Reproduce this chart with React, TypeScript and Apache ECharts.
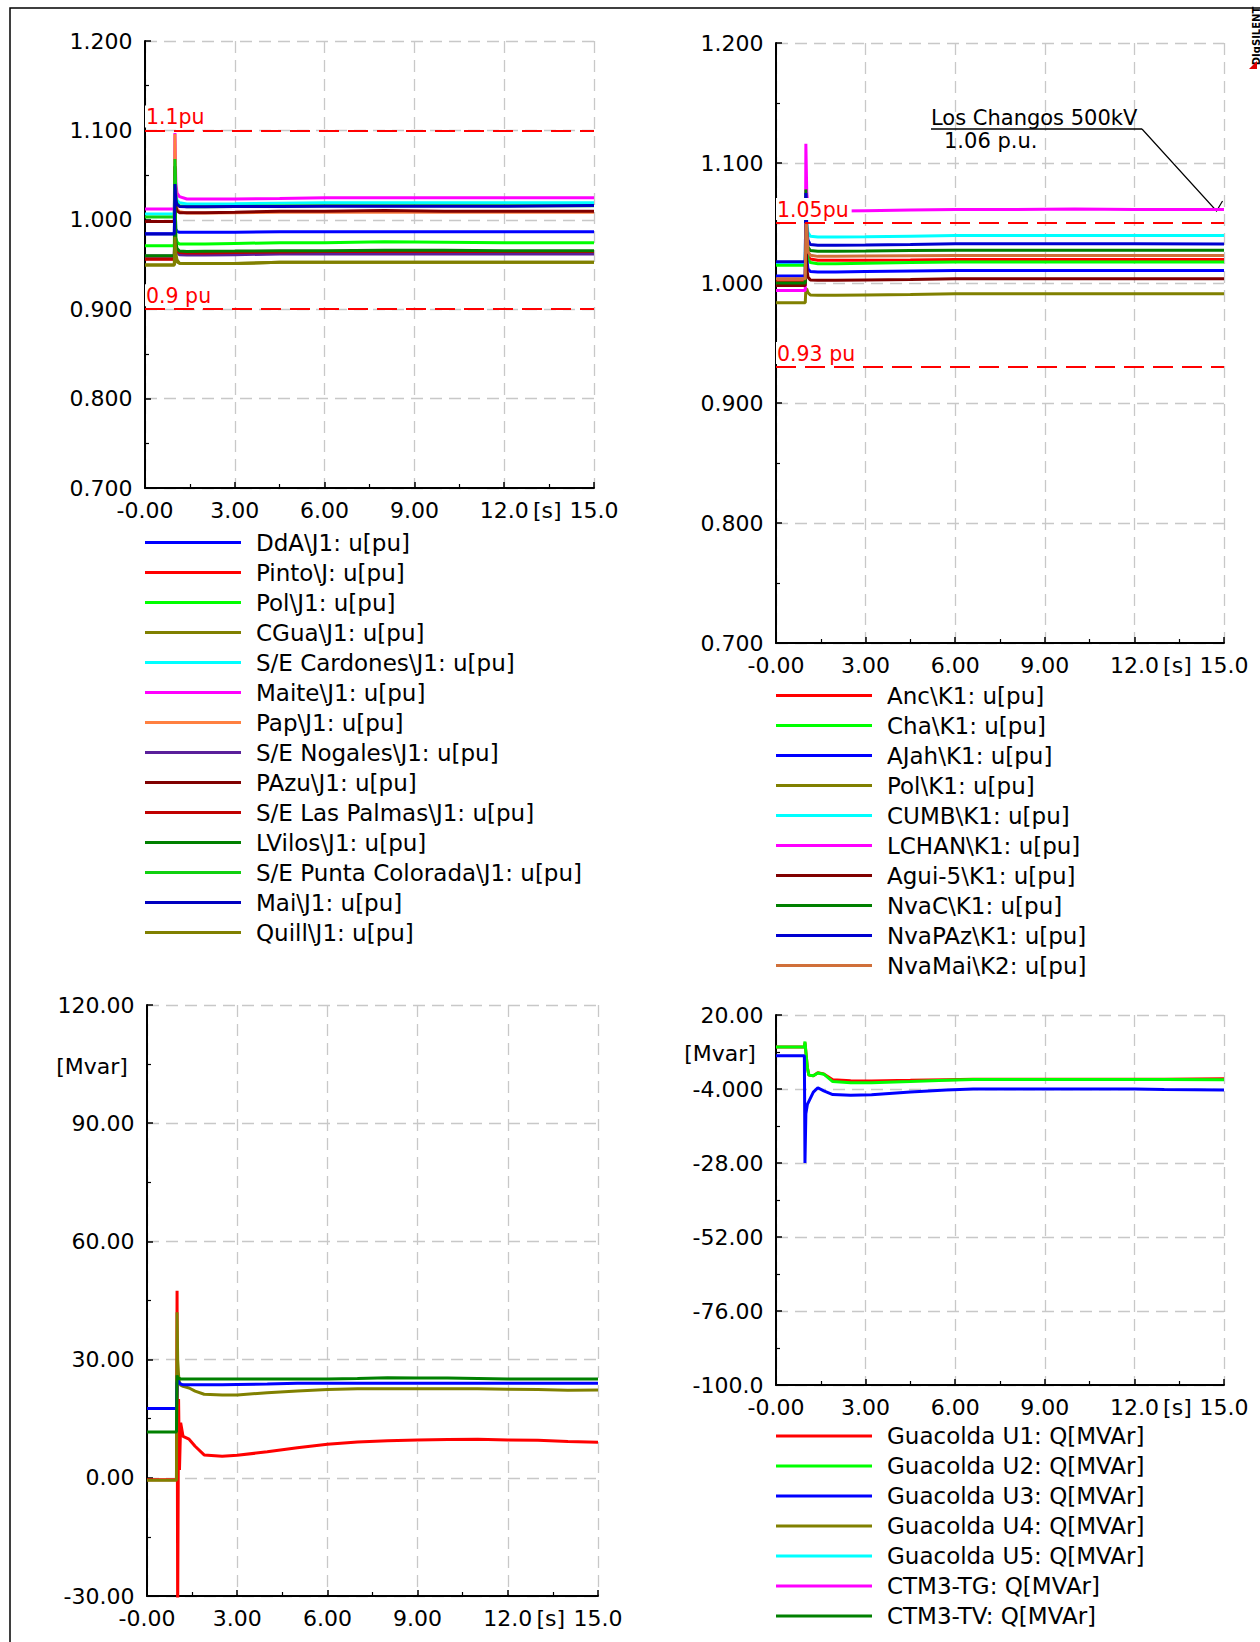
import React, { useEffect, useRef } from 'react';
import * as echarts from 'echarts';

const FONT = '"DejaVu Sans", Verdana, sans-serif';

// ---------- shared x axis ----------
const X_TICKS = [0, 3, 6, 9, 12, 15];
const X_LABELS = ['-0.00', '3.00', '6.00', '9.00', '12.0', '15.0'];
const X_UNIT = '[s]';

// ---------- top-left: voltages (J1) ----------
const TL_Y_LABELS = ['0.700', '0.800', '0.900', '1.000', '1.100', '1.200'];
const TL_LIMITS = [1.1, 0.9];
const TL_LIMIT_LABELS = ['1.1pu', '0.9 pu'];
const TL_TIME = [0, 0.98, 1.0, 1.03, 1.07, 1.15, 1.4, 2.0, 3.0, 4.5, 6.0, 8.0, 10.0, 12.0, 15.0];
const TL_NAMES = [
  'DdA\\J1: u[pu]', 'Pinto\\J: u[pu]', 'Pol\\J1: u[pu]', 'CGua\\J1: u[pu]',
  'S/E Cardones\\J1: u[pu]', 'Maite\\J1: u[pu]', 'Pap\\J1: u[pu]', 'S/E Nogales\\J1: u[pu]',
  'PAzu\\J1: u[pu]', 'S/E Las Palmas\\J1: u[pu]', 'LVilos\\J1: u[pu]',
  'S/E Punta Colorada\\J1: u[pu]', 'Mai\\J1: u[pu]', 'Quill\\J1: u[pu]',
];
const TL_COLORS = [
  '#0000ff', '#ff0000', '#00ff00', '#808000', '#00ffff', '#ff00ff', '#ff8040',
  '#5a1f9a', '#800000', '#c00000', '#008000', '#10d010', '#0000c0', '#808000',
];
const TL_DDA = [0.9845, 0.9845, 1.02, 0.99, 0.987, 0.986, 0.986, 0.986, 0.986, 0.9867, 0.9867, 0.9867, 0.9867, 0.9867, 0.9867];
const TL_PINTO = [0.9565, 0.9565, 1.0, 0.97, 0.965, 0.963, 0.9625, 0.9625, 0.963, 0.9635, 0.964, 0.964, 0.964, 0.964, 0.964];
const TL_POL = [0.971, 0.971, 1.04, 0.98, 0.975, 0.973, 0.9728, 0.9728, 0.9735, 0.9744, 0.9744, 0.9755, 0.975, 0.9744, 0.9744];
const TL_CGUA = [0.9494, 0.9494, 0.975, 0.958, 0.953, 0.9515, 0.951, 0.951, 0.951, 0.9524, 0.9524, 0.9524, 0.9524, 0.9524, 0.9524];
const TL_CARDONES = [1.0065, 1.0065, 1.07, 1.03, 1.022, 1.019, 1.0178, 1.0178, 1.018, 1.0185, 1.019, 1.019, 1.019, 1.019, 1.019];
const TL_MAITE = [1.012, 1.012, 1.097, 1.04, 1.03, 1.026, 1.0233, 1.0233, 1.0233, 1.0238, 1.0247, 1.0247, 1.0247, 1.0247, 1.0247];
const TL_PAP = [0.998, 0.998, 1.096, 1.025, 1.012, 1.009, 1.0075, 1.0075, 1.008, 1.0085, 1.0085, 1.0085, 1.0085, 1.0085, 1.0085];
const TL_NOGALES = [0.9594, 0.9594, 1.0, 0.97, 0.964, 0.961, 0.9605, 0.9605, 0.961, 0.9617, 0.9617, 0.9617, 0.9617, 0.9617, 0.9617];
const TL_PAZU = [0.998, 0.998, 1.06, 1.015, 1.01, 1.008, 1.0078, 1.008, 1.0085, 1.0095, 1.0097, 1.0103, 1.0097, 1.0097, 1.0097];
const TL_LASPALMAS = [0.956, 0.956, 0.99, 0.968, 0.965, 0.9635, 0.963, 0.963, 0.9635, 0.964, 0.9645, 0.9645, 0.9645, 0.9645, 0.9645];
const TL_LVILOS = [0.9598, 0.9598, 1.02, 0.975, 0.968, 0.965, 0.9645, 0.9648, 0.965, 0.9655, 0.9655, 0.966, 0.9658, 0.9655, 0.9655];
const TL_PCOLORADA = [1.003, 1.003, 1.068, 1.025, 1.018, 1.0155, 1.0145, 1.0145, 1.015, 1.0155, 1.0158, 1.0158, 1.0158, 1.0158, 1.0158];
const TL_MAI = [0.984, 0.984, 1.04, 1.022, 1.017, 1.015, 1.0145, 1.0145, 1.0148, 1.015, 1.0152, 1.0152, 1.0152, 1.0152, 1.016];
const TL_QUILL = [0.9494, 0.9494, 0.981, 0.962, 0.955, 0.9515, 0.951, 0.951, 0.951, 0.9524, 0.9524, 0.9524, 0.9524, 0.9524, 0.9524];
const TL_VALUES = [TL_DDA, TL_PINTO, TL_POL, TL_CGUA, TL_CARDONES, TL_MAITE, TL_PAP, TL_NOGALES, TL_PAZU, TL_LASPALMAS, TL_LVILOS, TL_PCOLORADA, TL_MAI, TL_QUILL];

// ---------- top-right: voltages (K1) ----------
const TR_Y_LABELS = ['0.700', '0.800', '0.900', '1.000', '1.100', '1.200'];
const TR_LIMITS = [1.05, 0.93];
const TR_LIMIT_LABELS = ['1.05pu', '0.93 pu'];
const TR_TIME = [0, 0.98, 1.0, 1.03, 1.07, 1.15, 1.4, 2.0, 3.0, 4.5, 6.0, 8.0, 10.0, 12.0, 15.0];
const TR_NAMES = [
  'Anc\\K1: u[pu]', 'Cha\\K1: u[pu]', 'AJah\\K1: u[pu]', 'Pol\\K1: u[pu]', 'CUMB\\K1: u[pu]',
  'LCHAN\\K1: u[pu]', 'Agui-5\\K1: u[pu]', 'NvaC\\K1: u[pu]', 'NvaPAz\\K1: u[pu]', 'NvaMai\\K2: u[pu]',
];
const TR_COLORS = ['#ff0000', '#00ff00', '#0000ff', '#808000', '#00ffff', '#ff00ff', '#800000', '#008000', '#0000d0', '#d0703a'];
const TR_ANC = [1.001, 1.001, 1.06, 1.03, 1.022, 1.02, 1.0189, 1.0189, 1.019, 1.0192, 1.0195, 1.0195, 1.0195, 1.0195, 1.0195];
const TR_CHA = [1.0147, 1.0147, 1.07, 1.03, 1.02, 1.017, 1.0161, 1.0161, 1.0165, 1.017, 1.0175, 1.0175, 1.0175, 1.0175, 1.0175];
const TR_AJAH = [1.0058, 1.0058, 1.06, 1.02, 1.012, 1.0095, 1.0091, 1.0091, 1.0095, 1.01, 1.0105, 1.0105, 1.0105, 1.0105, 1.0105];
const TR_POL = [0.9836, 0.9836, 0.995, 0.995, 0.992, 0.99, 0.9897, 0.9897, 0.99, 0.9905, 0.9911, 0.9911, 0.9911, 0.9911, 0.9911];
const TR_CUMB = [1.017, 1.017, 1.075, 1.05, 1.042, 1.039, 1.0383, 1.0383, 1.0385, 1.039, 1.0395, 1.0395, 1.0395, 1.0395, 1.0395];
const TR_LCHAN = [0.9938, 0.9938, 1.116, 1.075, 1.065, 1.061, 1.06, 1.06, 1.0603, 1.0608, 1.0612, 1.0612, 1.0617, 1.0612, 1.0612];
const TR_AGUI5 = [0.998, 0.998, 1.04, 1.012, 1.005, 1.0025, 1.0022, 1.0022, 1.0025, 1.003, 1.0036, 1.0036, 1.0036, 1.0036, 1.0036];
const TR_NVAC = [1.0, 1.0, 1.078, 1.04, 1.03, 1.027, 1.0264, 1.0264, 1.0266, 1.027, 1.0272, 1.0272, 1.0272, 1.0272, 1.0272];
const TR_NVAPAZ = [1.0178, 1.0178, 1.075, 1.045, 1.036, 1.032, 1.0314, 1.0314, 1.0316, 1.032, 1.0328, 1.0328, 1.0328, 1.0328, 1.0325];
const TR_NVAMAI = [1.0036, 1.0036, 1.05, 1.048, 1.026, 1.0232, 1.0222, 1.0222, 1.0225, 1.0228, 1.023, 1.023, 1.023, 1.023, 1.023];
const TR_VALUES = [TR_ANC, TR_CHA, TR_AJAH, TR_POL, TR_CUMB, TR_LCHAN, TR_AGUI5, TR_NVAC, TR_NVAPAZ, TR_NVAMAI];
const NOTE_TITLE = 'Los Changos 500kV';
const NOTE_VALUE_TEXT = '1.06 p.u.';
const NOTE_POINT = [14.75, 1.06];

// ---------- bottom-left: reactive power ----------
const BL_Y_LABELS = ['-30.00', '0.00', '30.00', '60.00', '90.00', '120.00'];
const BL_UNIT = '[Mvar]';
const BL_TIME = [0, 0.98, 1.0, 1.02, 1.05, 1.08, 1.12, 1.2, 1.4, 1.6, 1.9, 2.5, 3.0, 4.0, 5.0, 6.0, 7.0, 8.0, 9.0, 10.0, 11.0, 12.0, 13.0, 14.0, 15.0];
const BL_NAMES = ['Q red', 'Q olive', 'Q blue', 'Q green'];
const BL_COLORS = ['#ff0000', '#808000', '#0000ff', '#008000'];
const BL_RED = [-0.5, -0.5, 47.5, -35, 20, 2, 14, 10.5, 9.8, 8.0, 5.8, 5.5, 5.7, 6.6, 7.6, 8.5, 9.1, 9.4, 9.6, 9.7, 9.8, 9.6, 9.5, 9.2, 9.0];
const BL_OLIVE = [-0.6, -0.6, 42, 30, 26, 24, 23.5, 23.2, 22.8, 22.0, 21.2, 21.0, 21.0, 21.6, 22.0, 22.4, 22.6, 22.6, 22.6, 22.6, 22.6, 22.5, 22.4, 22.2, 22.3];
const BL_BLUE = [17.6, 17.6, 24, 25, 24.5, 24, 23.8, 23.6, 23.6, 23.6, 23.6, 23.6, 23.7, 23.8, 24.0, 24.0, 24.0, 24.0, 24.0, 24.0, 24.0, 24.0, 24.0, 24.0, 24.0];
const BL_GREEN = [11.6, 11.6, 26, 25.5, 25.3, 25.2, 25.1, 25.1, 25.1, 25.1, 25.1, 25.1, 25.1, 25.1, 25.1, 25.1, 25.2, 25.4, 25.3, 25.3, 25.2, 25.1, 25.1, 25.1, 25.1];
const BL_VALUES = [BL_RED, BL_OLIVE, BL_BLUE, BL_GREEN];

// ---------- bottom-right: Guacolda reactive power ----------
const BR_Y_LABELS = ['-100.0', '-76.00', '-52.00', '-28.00', '-4.000', '20.00'];
const BR_Y_MIN = -100;
const BR_Y_MAX = 20;
const BR_Y_STEP = 24;
const BR_UNIT = '[Mvar]';
const BR_TIME = [0, 0.95, 0.97, 1.0, 1.05, 1.1, 1.25, 1.4, 1.6, 1.9, 2.5, 3.2, 4.5, 5.7, 6.6, 9.0, 12.0, 13.0, 15.0];
const BR_NAMES = [
  'Guacolda U1: Q[MVAr]', 'Guacolda U2: Q[MVAr]', 'Guacolda U3: Q[MVAr]', 'Guacolda U4: Q[MVAr]',
  'Guacolda U5: Q[MVAr]', 'CTM3-TG: Q[MVAr]', 'CTM3-TV: Q[MVAr]',
];
const BR_COLORS = ['#ff0000', '#00ff00', '#0000ff', '#808000', '#00ffff', '#ff00ff', '#008000'];
const BR_U1 = [9.6, 9.6, 11.0, 8, 3, 0.5, 0.3, 1.3, 0.9, -1.0, -1.3, -1.4, -1.2, -1.0, -0.85, -0.8, -0.8, -0.8, -0.7];
const BR_U2 = [9.6, 9.6, 11.4, 8, 3, 0.5, 0.3, 1.2, 0.8, -1.6, -2.0, -2.0, -1.6, -1.2, -0.9, -0.9, -0.9, -0.9, -1.0];
const BR_U3 = [6.75, 6.75, -28, -12, -9, -8, -5, -3.6, -4.6, -5.8, -6.0, -5.9, -5.0, -4.3, -4.0, -4.0, -4.0, -4.2, -4.3];
const BR_VALUES: number[][] = [BR_U1, BR_U2, BR_U3, [], [], [], []];

// ---------- layout ----------
const GRIDS = [
  { left: 145, top: 41, width: 449, height: 447 },
  { left: 776, top: 43, width: 448, height: 600 },
  { left: 147, top: 1005, width: 451, height: 591 },
  { left: 776, top: 1015, width: 448, height: 370 },
];
const TICK_SIZE = 22;
const LEGEND_SIZE = 23;
const X_LABEL_MARGIN = 11;

function xAxis(gridIndex: number) {
  return {
    type: 'value', gridIndex, min: 0, max: 15, interval: 3, position: 'bottom',
    axisLine: { show: true, onZero: false, lineStyle: { color: '#000', width: 2 } },
    axisTick: { show: true, inside: true, length: 6, lineStyle: { color: '#000', width: 1.5 } },
    minorTick: { show: true, splitNumber: 2, length: 4, lineStyle: { color: '#000', width: 1.2 } },
    splitLine: { show: true, lineStyle: { color: '#c8c8c8', type: [12, 7], width: 1.3 } },
    axisLabel: {
      show: true, showMinLabel: true, showMaxLabel: true, margin: X_LABEL_MARGIN,
      color: '#000', fontSize: TICK_SIZE, fontFamily: FONT,
      formatter: (v: number) => {
        const i = X_TICKS.findIndex((t) => Math.abs(t - v) < 1e-6);
        return i >= 0 ? X_LABELS[i] : '';
      },
    },
  };
}

function yAxis(gridIndex: number, min: number, max: number, interval: number, labels: string[]) {
  return {
    type: 'value', gridIndex, min, max, interval, position: 'left',
    axisLine: { show: true, onZero: false, lineStyle: { color: '#000', width: 2 } },
    axisTick: { show: true, inside: true, length: 6, lineStyle: { color: '#000', width: 1.5 } },
    minorTick: { show: true, splitNumber: 2, length: 4, lineStyle: { color: '#000', width: 1.2 } },
    splitLine: { show: true, lineStyle: { color: '#c8c8c8', type: [12, 7], width: 1.3 } },
    axisLabel: {
      show: true, showMinLabel: true, showMaxLabel: true, margin: 12.5,
      color: '#000', fontSize: TICK_SIZE, fontFamily: FONT,
      formatter: (v: number) => labels[Math.round((v - min) / interval)] ?? '',
    },
  };
}

function lineSeries(name: string, color: string, times: number[], values: number[], grid: number, offset = 0, extra: any = {}) {
  return {
    type: 'line', name, xAxisIndex: grid, yAxisIndex: grid,
    data: values.map((v, i) => [times[i], v + offset]),
    showSymbol: false, symbol: 'none', silent: true, z: 2,
    lineStyle: { color, width: 3 }, itemStyle: { color },
    ...extra,
  };
}

function limitLines(values: number[], labels: string[]) {
  return {
    silent: true, symbol: 'none',
    lineStyle: { color: '#ff0000', type: [20, 9], width: 2 },
    label: {
      position: 'insideStartTop', color: '#ff0000', fontSize: 20.5, fontFamily: FONT,
      backgroundColor: '#ffffff', padding: [1, 3, 0, 1], distance: [0, 3],
    },
    data: values.map((v, i) => ({ yAxis: v, label: { formatter: labels[i] } })),
  };
}

function legend(names: string[], left: number, top: number) {
  return {
    show: true, orient: 'vertical', left, top, padding: 0,
    itemWidth: 96, itemHeight: 3, itemGap: 30 - LEGEND_SIZE,
    icon: 'rect', selectedMode: false, data: names,
    textStyle: { color: '#000', fontSize: LEGEND_SIZE, fontFamily: FONT, padding: [0, 0, 0, 10] },
  };
}

function buildOption() {
  const series: any[] = [];
  TL_NAMES.forEach((n, i) => {
    series.push(lineSeries(n, TL_COLORS[i], TL_TIME, TL_VALUES[i], 0, 0,
      i === 0 ? { markLine: limitLines(TL_LIMITS, TL_LIMIT_LABELS) } : {}));
  });
  TR_NAMES.forEach((n, i) => {
    series.push(lineSeries(n, TR_COLORS[i], TR_TIME, TR_VALUES[i], 1, 0,
      i === 0 ? { markLine: limitLines(TR_LIMITS, TR_LIMIT_LABELS) } : {}));
  });
  BL_NAMES.forEach((n, i) => series.push(lineSeries(n, BL_COLORS[i], BL_TIME, BL_VALUES[i], 2)));
  BR_NAMES.forEach((n, i) => series.push(lineSeries(n, BR_COLORS[i], BR_TIME, BR_VALUES[i], 3, -BR_Y_MIN)));

  return {
    animation: false,
    backgroundColor: '#ffffff',
    textStyle: { fontFamily: FONT },
    grid: GRIDS.map((g) => ({ ...g, containLabel: false })),
    xAxis: [xAxis(0), xAxis(1), xAxis(2), xAxis(3)],
    yAxis: [
      yAxis(0, 0.7, 1.2, 0.1, TL_Y_LABELS),
      yAxis(1, 0.7, 1.2, 0.1, TR_Y_LABELS),
      yAxis(2, -30, 120, 30, BL_Y_LABELS),
      yAxis(3, 0, BR_Y_MAX - BR_Y_MIN, BR_Y_STEP, BR_Y_LABELS),
    ],
    legend: [
      legend(TL_NAMES, 145, 531),
      legend(TR_NAMES, 776, 684),
      legend(BR_NAMES, 776, 1424.5),
    ],
    series,
  };
}

function buildGraphics(anchor: number[]) {
  const g: any[] = [];
  g.push({ type: 'rect', silent: true, shape: { x: 10, y: 8, width: 1300, height: 1700 }, style: { fill: 'none', stroke: '#000', lineWidth: 1.5 } });
  g.push({
    type: 'text', silent: true, x: 1256, y: 36, rotation: Math.PI / 2,
    style: { text: 'DIgSILENT', fontSize: 10, fontWeight: 'bold', fontFamily: FONT, fill: '#000', align: 'center', verticalAlign: 'middle' },
  });
  g.push({ type: 'polygon', silent: true, shape: { points: [[1249, 69], [1257, 69], [1257, 61]] }, style: { fill: '#e00000' } });
  GRIDS.forEach((gr) => {
    g.push({
      type: 'text', silent: true,
      x: gr.left + (gr.width * 12) / 15 + 43, y: gr.top + gr.height + X_LABEL_MARGIN,
      style: { text: X_UNIT, fontSize: TICK_SIZE, fontFamily: FONT, fill: '#000', align: 'center', verticalAlign: 'top' },
    });
  });
  g.push({ type: 'text', silent: true, x: 92, y: 1066, style: { text: BL_UNIT, fontSize: TICK_SIZE, fontFamily: FONT, fill: '#000', align: 'center', verticalAlign: 'middle' } });
  g.push({ type: 'text', silent: true, x: 720, y: 1053, style: { text: BR_UNIT, fontSize: TICK_SIZE, fontFamily: FONT, fill: '#000', align: 'center', verticalAlign: 'middle' } });
  // annotation
  g.push({ type: 'text', silent: true, x: 931, y: 118, style: { text: NOTE_TITLE, fontSize: 21, fontFamily: FONT, fill: '#000', align: 'left', verticalAlign: 'middle' } });
  g.push({ type: 'line', silent: true, shape: { x1: 931, y1: 129, x2: 1142, y2: 129 }, style: { stroke: '#000', lineWidth: 1.5 } });
  g.push({ type: 'text', silent: true, x: 944, y: 140.5, style: { text: NOTE_VALUE_TEXT, fontSize: 21, fontFamily: FONT, fill: '#000', align: 'left', verticalAlign: 'middle' } });
  g.push({
    type: 'polyline', silent: true,
    shape: { points: [[1142, 129], [anchor[0], anchor[1]], [anchor[0] + 6, anchor[1] - 10]] },
    style: { stroke: '#000', lineWidth: 1.2, fill: 'none' },
  });
  return g;
}

export default function App() {
  const ref = useRef<HTMLDivElement>(null);
  useEffect(() => {
    if (!ref.current) return;
    const chart = echarts.init(ref.current, null, { renderer: 'svg' });
    chart.setOption(buildOption() as any);
    const anchor = chart.convertToPixel({ gridIndex: 1 } as any, NOTE_POINT) as number[];
    chart.setOption({ graphic: buildGraphics(anchor) } as any);
    return () => chart.dispose();
  }, []);
  return (
    <div
      ref={ref}
      style={{ position: 'absolute', left: 0, top: 0, width: 1260, height: 1642, background: '#fff' }}
    />
  );
}
